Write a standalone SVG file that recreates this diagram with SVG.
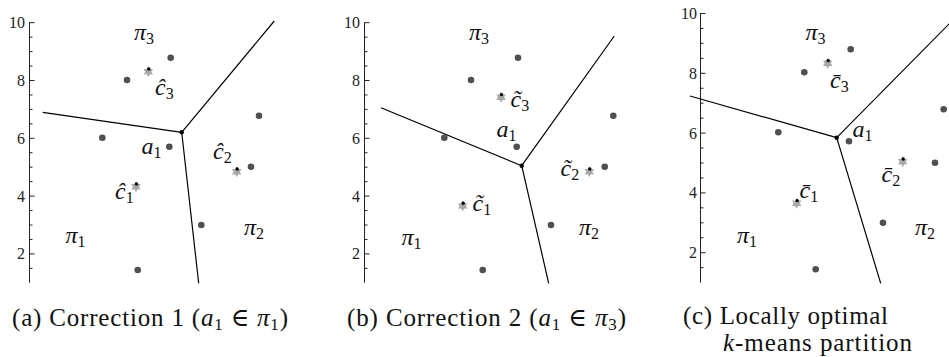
<svg xmlns="http://www.w3.org/2000/svg" xmlns:xlink="http://www.w3.org/1999/xlink" width="949" height="357" viewBox="0 0 949 357">
<style>
text{font-family:"Liberation Serif","DejaVu Serif",serif;fill:#111}
.ax{stroke:#222;stroke-width:1;fill:none}
.bd{stroke:#000;stroke-width:1.2;fill:none}
.pt{fill:#505050}
.vx{fill:#000}
.tk{font-size:16px;text-anchor:end;fill:#222}
.lb{font-style:italic;font-size:24px}
.sb{font-style:normal;font-size:16px}
.cap{font-size:25px}
.it{font-style:italic}
.cs{font-size:17px}
</style>
<defs>
<polygon id="star" points="0,-5.5 1.5,-2.6 4.8,-2.75 3,0 4.8,2.75 1.5,2.6 0,5.5 -1.5,2.6 -4.8,2.75 -3,0 -4.8,-2.75 -1.5,-2.6" fill="#a8a8a8"/>
<g id="cent"><use xlink:href="#star"/><circle cx="0.5" cy="-2.7" r="1.7" fill="#000"/></g>
<g id="axisAB">
<path class="ax" d="M29.5,22.2V282.8M29.5,22.7h5M29.5,37.15h3M29.5,51.6h3M29.5,66.05h3M29.5,80.5h5M29.5,94.95h3M29.5,109.4h3M29.5,123.85h3M29.5,138.3h5M29.5,152.75h3M29.5,167.2h3M29.5,181.65h3M29.5,196.1h5M29.5,210.55h3M29.5,225h3M29.5,239.45h3M29.5,253.9h5M29.5,268.35h3"/>
<text class="tk" x="25" y="28.2">10</text>
<text class="tk" x="25" y="86">8</text>
<text class="tk" x="25" y="143.8">6</text>
<text class="tk" x="25" y="201.6">4</text>
<text class="tk" x="25" y="259.4">2</text>
</g>
</defs>

<!-- Panel (a) -->
<g id="panel-a">
<use id="axis-a" xlink:href="#axisAB"/>
<g id="connectors-a">
<path class="bd" d="M42.7,112.3L181.7,132.3M181.7,132.3L274.3,21M181.7,132.3L198.7,283.3"/>
</g>
<g id="points-a">
<circle class="pt" cx="170.7" cy="57.7" r="3.3"/>
<circle class="pt" cx="127" cy="80" r="3.3"/>
<circle class="pt" cx="102.3" cy="137.7" r="3.3"/>
<circle class="pt" cx="169.3" cy="146.7" r="3.3"/>
<circle class="pt" cx="259" cy="115.7" r="3.3"/>
<circle class="pt" cx="251" cy="166.7" r="3.3"/>
<circle class="pt" cx="201.3" cy="225" r="3.3"/>
<circle class="pt" cx="137.7" cy="270" r="3.3"/>
</g>
<g id="vertex-a"><circle class="vx" cx="181.7" cy="132.3" r="2.2"/></g>
<g id="c3-a"><use xlink:href="#cent" x="148.3" y="71.7"/><text class="lb" x="155" y="95">ĉ<tspan class="sb" dy="4">3</tspan></text></g>
<g id="c1-a"><use xlink:href="#cent" x="136" y="186.7"/><text class="lb" x="115" y="199">ĉ<tspan class="sb" dy="4">1</tspan></text></g>
<g id="c2-a"><use xlink:href="#cent" x="236.7" y="171.7"/><text class="lb" x="213" y="159">ĉ<tspan class="sb" dy="4">2</tspan></text></g>
<g id="a1-a"><text class="lb" x="141.5" y="154">a<tspan class="sb" dy="4">1</tspan></text></g>
<g id="pi3-a"><text class="lb" x="134" y="40">π<tspan class="sb" dy="4">3</tspan></text></g>
<g id="pi1-a"><text class="lb" x="65.5" y="243">π<tspan class="sb" dy="4">1</tspan></text></g>
<g id="pi2-a"><text class="lb" x="244" y="235">π<tspan class="sb" dy="4">2</tspan></text></g>
</g>

<!-- Panel (b) -->
<g id="panel-b">
<use id="axis-b" xlink:href="#axisAB" x="335"/>
<g id="connectors-b">
<path class="bd" d="M381,107.7L521.7,165.7M521.7,165.7L614.3,36M521.7,165.7L548.7,283.3"/>
</g>
<g id="points-b">
<circle class="pt" cx="518" cy="57.7" r="3.3"/>
<circle class="pt" cx="471" cy="80" r="3.3"/>
<circle class="pt" cx="444.3" cy="137.7" r="3.3"/>
<circle class="pt" cx="516.7" cy="146.7" r="3.3"/>
<circle class="pt" cx="613.3" cy="115.7" r="3.3"/>
<circle class="pt" cx="604.7" cy="166.7" r="3.3"/>
<circle class="pt" cx="551" cy="225" r="3.3"/>
<circle class="pt" cx="482.7" cy="270" r="3.3"/>
</g>
<g id="vertex-b"><circle class="vx" cx="521.7" cy="165.7" r="2.2"/></g>
<g id="c3-b"><use xlink:href="#cent" x="501" y="97.3"/><text class="lb" x="510.5" y="106.5">c̃<tspan class="sb" dy="4">3</tspan></text></g>
<g id="c1-b"><use xlink:href="#cent" x="462.7" y="206"/><text class="lb" x="472.5" y="210.5">c̃<tspan class="sb" dy="4">1</tspan></text></g>
<g id="c2-b"><use xlink:href="#cent" x="589.3" y="171.7"/><text class="lb" x="560.5" y="176">c̃<tspan class="sb" dy="4">2</tspan></text></g>
<g id="a1-b"><text class="lb" x="496.5" y="136.5">a<tspan class="sb" dy="4">1</tspan></text></g>
<g id="pi3-b"><text class="lb" x="469" y="39.5">π<tspan class="sb" dy="4">3</tspan></text></g>
<g id="pi1-b"><text class="lb" x="401.5" y="245">π<tspan class="sb" dy="4">1</tspan></text></g>
<g id="pi2-b"><text class="lb" x="579" y="235">π<tspan class="sb" dy="4">2</tspan></text></g>
</g>

<!-- Panel (c) -->
<g id="panel-c">
<g id="axis-c">
<path class="ax" d="M700.5,13V282.6M700.5,13.5h5M700.5,28.45h3M700.5,43.4h3M700.5,58.35h3M700.5,73.3h5M700.5,88.25h3M700.5,103.2h3M700.5,118.15h3M700.5,133.1h5M700.5,148.05h3M700.5,163h3M700.5,177.95h3M700.5,192.9h5M700.5,207.85h3M700.5,222.8h3M700.5,237.75h3M700.5,252.7h5M700.5,267.65h3"/>
<text class="tk" x="697" y="19">10</text>
<text class="tk" x="697" y="78.8">8</text>
<text class="tk" x="697" y="138.6">6</text>
<text class="tk" x="697" y="198.4">4</text>
<text class="tk" x="697" y="258.2">2</text>
</g>
<g id="connectors-c">
<path class="bd" d="M690,96L836.7,137.7M836.7,137.7L950,23M836.7,137.7L880.7,283.3"/>
</g>
<g id="points-c">
<circle class="pt" cx="850.7" cy="49.3" r="3.3"/>
<circle class="pt" cx="804.3" cy="72.3" r="3.3"/>
<circle class="pt" cx="778.3" cy="132.3" r="3.3"/>
<circle class="pt" cx="849" cy="141.3" r="3.3"/>
<circle class="pt" cx="943.7" cy="109.3" r="3.3"/>
<circle class="pt" cx="935" cy="162.7" r="3.3"/>
<circle class="pt" cx="883" cy="222.7" r="3.3"/>
<circle class="pt" cx="815.7" cy="269.3" r="3.3"/>
</g>
<g id="vertex-c"><circle class="vx" cx="836.7" cy="137.7" r="2.2"/></g>
<g id="c3-c"><use xlink:href="#cent" x="827.7" y="63.3"/><text class="lb" x="830" y="88">c̄<tspan class="sb" dy="4">3</tspan></text></g>
<g id="c1-c"><use xlink:href="#cent" x="796.7" y="203.3"/><text class="lb" x="799.5" y="198">c̄<tspan class="sb" dy="4">1</tspan></text></g>
<g id="c2-c"><use xlink:href="#cent" x="902.7" y="161.7"/><text class="lb" x="881.5" y="181.5">c̄<tspan class="sb" dy="4">2</tspan></text></g>
<g id="a1-c"><text class="lb" x="852.5" y="137">a<tspan class="sb" dy="4">1</tspan></text></g>
<g id="pi3-c"><text class="lb" x="805.5" y="39.5">π<tspan class="sb" dy="4">3</tspan></text></g>
<g id="pi1-c"><text class="lb" x="737" y="243">π<tspan class="sb" dy="4">1</tspan></text></g>
<g id="pi2-c"><text class="lb" x="915" y="235">π<tspan class="sb" dy="4">2</tspan></text></g>
</g>

<!-- Captions -->
<g id="captions">
<text class="cap" x="12" y="326" textLength="276" lengthAdjust="spacing">(a) Correction 1 (<tspan class="it">a</tspan><tspan class="cs" dy="4">1</tspan><tspan dy="-4"> ∈ </tspan><tspan class="it">π</tspan><tspan class="cs" dy="4">1</tspan><tspan dy="-4">)</tspan></text>
<text class="cap" x="347" y="326" textLength="279" lengthAdjust="spacing">(b) Correction 2 (<tspan class="it">a</tspan><tspan class="cs" dy="4">1</tspan><tspan dy="-4"> ∈ </tspan><tspan class="it">π</tspan><tspan class="cs" dy="4">3</tspan><tspan dy="-4">)</tspan></text>
<text class="cap" x="683" y="324" textLength="205" lengthAdjust="spacing">(c) Locally optimal</text>
<text class="cap" x="723" y="351" textLength="189" lengthAdjust="spacing"><tspan class="it">k</tspan>-means partition</text>
</g>
</svg>
